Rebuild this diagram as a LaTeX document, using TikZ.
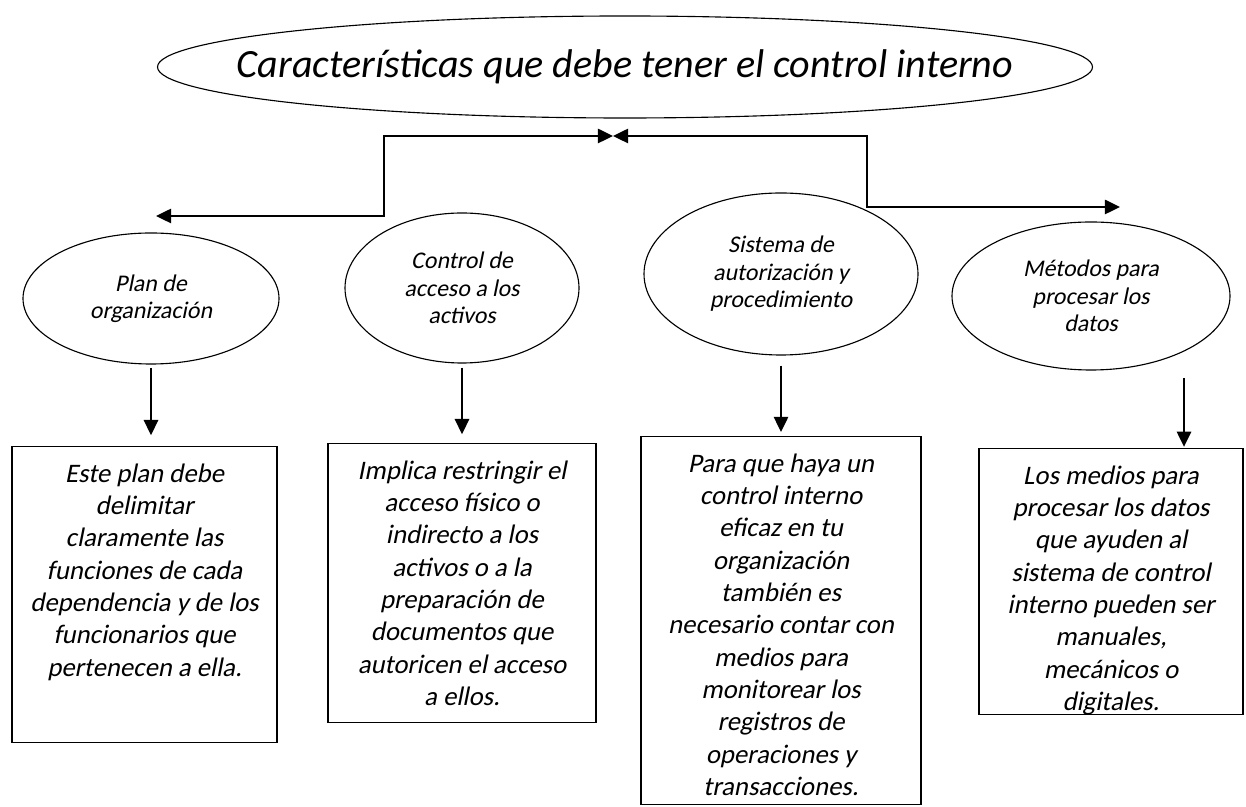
\documentclass[tikz,border=0pt]{standalone}
\usepackage{fontspec}
\setmainfont{Carlito}
\newfontfamily\carlitocursiva{Carlito Italic}
\newfontfamily\carlitoinclinada{Carlito}[FakeSlant=0.2]
\usepackage{tikz}
\usetikzlibrary{positioning,arrows.meta,shapes.geometric,calc}
\newcommand{\fuentetitulo}{\carlitocursiva\fontsize{28.5}{32}\selectfont}
\newcommand{\fuenteovalo}{\carlitoinclinada\fontsize{17}{19.5}\selectfont}
\newcommand{\fuentecaja}{\carlitoinclinada\fontsize{19}{23}\selectfont}
\newcommand{\textocaja}[3]{\parbox[c][#1][t]{#2}{\centering\vspace*{0.42cm}#3}}

\begin{document}
\begin{tikzpicture}[
  oval/.style={ellipse, draw, line width=0.8pt, font=\fuenteovalo, align=center, inner sep=0pt},
  caja/.style={draw, line width=1pt, font=\fuentecaja, anchor=north, inner sep=0pt},
  conn/.style={line width=1.3pt},
  >={Triangle[length=0.38cm, width=0.36cm]}
]
\useasboundingbox (0,0) rectangle (31.15,20.15);

% TITLE
\node[oval, font=\fuentetitulo, inner xsep=-4cm, minimum width=23.375cm, minimum height=2.55cm] (tit) at (15.625,18.475)
  {Características que debe tener el control interno};

% BRANCHES
\coordinate (meet) at (15.325,16.75);
\coordinate (lend) at (3.9,14.75);
\coordinate (lknee) at (9.6,14.75);
\coordinate (rknee) at (21.675,14.975);
\coordinate (rend) at (28.0,14.975);
\draw[conn,<->] (lend) -- (lknee) |- (meet);
\draw[conn,<->] (meet) -| (rknee) -- (rend);

% OVALS
\node[oval, minimum width=6.4cm, minimum height=3.275cm] (e1) at (3.775,12.6875) {Plan de\\organización};
\node[oval, minimum width=5.85cm, minimum height=3.75cm] (e2) at (11.55,12.95) {Control de\\acceso a los\\activos};
\node[oval, minimum width=6.85cm, minimum height=4.05cm] (e3) at (19.525,13.3) {Sistema de\\autorización y\\procedimiento};
\node[oval, minimum width=6.95cm, minimum height=3.7cm] (e4) at (27.275,12.75) {Métodos para\\procesar los\\datos};

% BOXES
\node[caja] (b1) at (3.6125,9.0) {\textocaja{7.4cm}{6.625cm}
  {Este plan debe\\delimitar\\claramente las\\funciones de cada\\dependencia y de los\\funcionarios que\\pertenecen a ella.}};
\node[caja] (b2) at (11.55,9.075) {\textocaja{6.975cm}{6.7cm}
  {Implica restringir el\\acceso físico o\\indirecto a los\\activos o a la\\preparación de\\documentos que\\autoricen el acceso\\a ellos.}};
\node[caja] (b3) at (19.525,9.25) {\textocaja{9.2cm}{7.0cm}
  {Para que haya un\\control interno\\eficaz en tu\\organización\\también es\\necesario contar con\\medios para\\monitorear los\\registros de\\operaciones y\\transacciones.}};
\node[caja] (b4) at (27.775,8.95) {\textocaja{6.65cm}{6.6cm}
  {Los medios para\\procesar los datos\\que ayuden al\\sistema de control\\interno pueden ser\\manuales,\\mecánicos o\\digitales.}};

% DOWN ARROWS
\draw[conn,->,shorten <=0.08cm,shorten >=0.27cm] (e1.south) -- (e1.south |- b1.north);
\draw[conn,->,shorten <=0.1cm,shorten >=0.22cm] (e2.south) -- (e2.south |- b2.north);
\draw[conn,->,shorten <=0.25cm,shorten >=0.1cm] (e3.south) -- (e3.south |- b3.north);
\coordinate (m4) at (29.6,10.7);
\draw[conn,->,shorten >=0.03cm] (m4) -- (m4 |- b4.north);

\end{tikzpicture}
\end{document}
